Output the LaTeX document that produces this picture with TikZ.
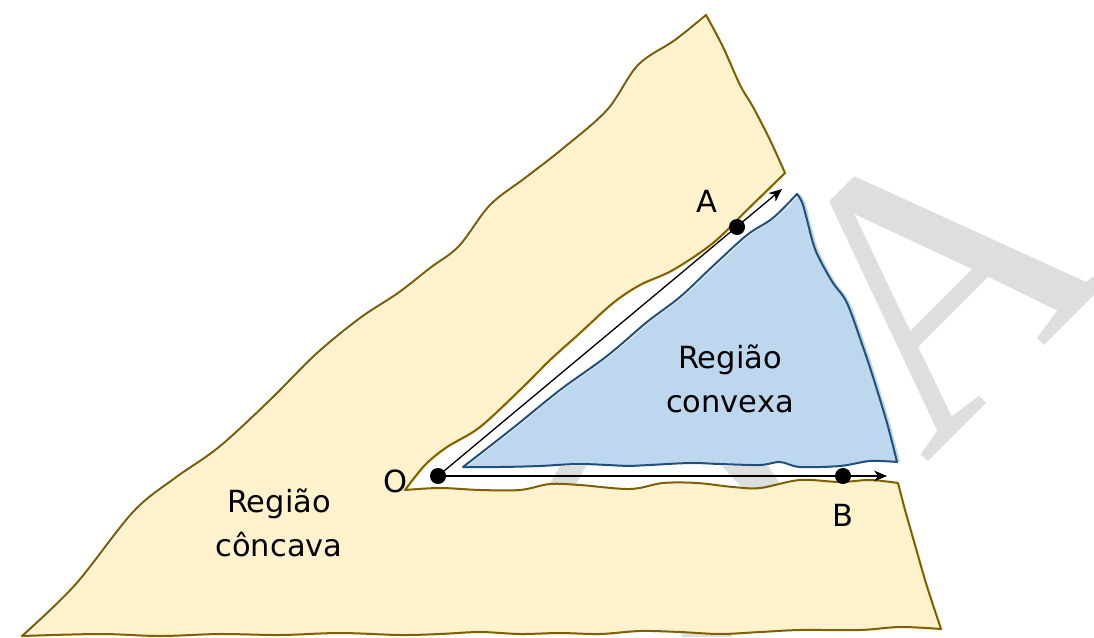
\documentclass[tikz,border=0pt]{standalone}
\usepackage{fontspec}
\setmainfont{DejaVu Sans}
\newfontfamily\wmfont{Liberation Serif}
\usetikzlibrary{arrows.meta}
\definecolor{concfill}{HTML}{FFF2CC}
\definecolor{concline}{HTML}{7F6000}
\definecolor{convfill}{HTML}{BDD7EE}
\definecolor{convline}{HTML}{23507A}
\definecolor{wmgray}{HTML}{DEDEDE}

\tikzset{
  wobbly/.style={smooth,tension=0.55},
  region label/.style={font=\fontsize{30.5}{44}\selectfont,align=center},
  point label/.style={font=\fontsize{30.5}{36}\selectfont},
  dot/.style={circle,fill=black,inner sep=0pt,minimum size=16pt},
  ray/.style={line width=1.3pt,-{Stealth[length=13pt,width=11pt,inset=4pt]}}
}

% outline of the concave region (pixel units)
\def\concavepath{plot[wobbly] coordinates {(22,636) (75,585) (133,512) (175,478) (219,447) (270,400) (316,354) (360,318) (398,293) (430,268) (459,246) (490,205) (525,178) (561,150) (607,110) (638,65) (675,40) (706,15)}
  -- plot[wobbly] coordinates {(706,15) (723,47) (740,85) (753,107) (770,140) (785,173)}
  -- plot[wobbly] coordinates {(785,173) (747,210) (713,243) (673,270) (640,285) (613,303) (580,333) (550,360) (523,387) (480,427) (447,447) (425,465) (405,490)}
  -- plot[wobbly] coordinates {(405,490) (440,488) (480,490) (520,490) (550,484) (580,485) (630,489) (663,483) (697,483) (733,487) (760,488) (800,480) (840,482) (870,480) (898,483)}
  -- plot[wobbly] coordinates {(898,483) (905,510) (915,545) (925,580) (933,605) (941,629)}
  -- plot[wobbly] coordinates {(941,629) (900,627) (860,630) (800,630) (760,632) (720,634) (680,632) (640,631) (600,634) (560,633) (520,634) (480,632) (440,634) (400,635) (340,633) (280,635) (220,634) (160,636) (100,634) (22,636)}
  -- cycle}
% outline of the convex region
\def\convexpath{plot[wobbly] coordinates {(463,467) (513,428) (560,390) (607,356) (647,322) (680,297) (713,266) (747,235) (773,218) (797,194)}
  -- plot[wobbly] coordinates {(797,194) (803,205) (813,243) (820,260) (833,283) (847,303) (863,347) (873,377) (887,423) (897,462)}
  -- plot[wobbly] coordinates {(897,462) (870,461) (840,466) (800,467) (780,462) (760,465) (720,464) (690,463) (650,465) (630,466) (580,464) (540,466) (500,467) (463,467)}
  -- cycle}

\begin{document}
\begin{tikzpicture}[x=1pt,y=-1pt]
\useasboundingbox (0,0) rectangle (1094,637);
\clip (0,0) rectangle (1094,637);
% watermark
\node[font=\wmfont\fontsize{384}{384}\selectfont,text=wmgray,rotate=45,anchor=base,inner sep=0pt] (wmA) at (1024,366) {A};
\fill[wmgray] (560,466) -- (586,466) -- (573,490) -- (546,490) -- cycle;
\fill[wmgray] (722,466) -- (768,466) -- (784,490) -- (744,490) -- cycle;
\fill[wmgray] (682,626) -- (732,626) -- (732,637) -- (682,637) -- cycle;
% regions, sketchy fill
\fill[concfill,shift={(2,1)}] \concavepath;
\draw[concline,line width=2pt,line join=round] \concavepath;
\fill[convfill,shift={(3,0)}] \convexpath;
\draw[convline,line width=2pt,line join=round] \convexpath;
\node[region label] (convex) at (730,379) {Região\\convexa};
\node[region label] (concave) at (279,523) {Região\\côncava};
% rays
\coordinate (O) at (438,476);
\coordinate (A) at (737,227);
\coordinate (B) at (843,476);
\coordinate (Aend) at (782,189);
\coordinate (Bend) at (887,476);
\draw[ray] (O) -- (Aend);
\draw[ray] (O) -- (Bend);
\foreach \p in {O,A,B} {\node[dot] (dot\p) at (\p) {};}
\node[point label] (Olab) at (395,481) {O};
\node[point label] (Alab) at (707,201) {A};
\node[point label] (Blab) at (843,515) {B};
\end{tikzpicture}
\end{document}
